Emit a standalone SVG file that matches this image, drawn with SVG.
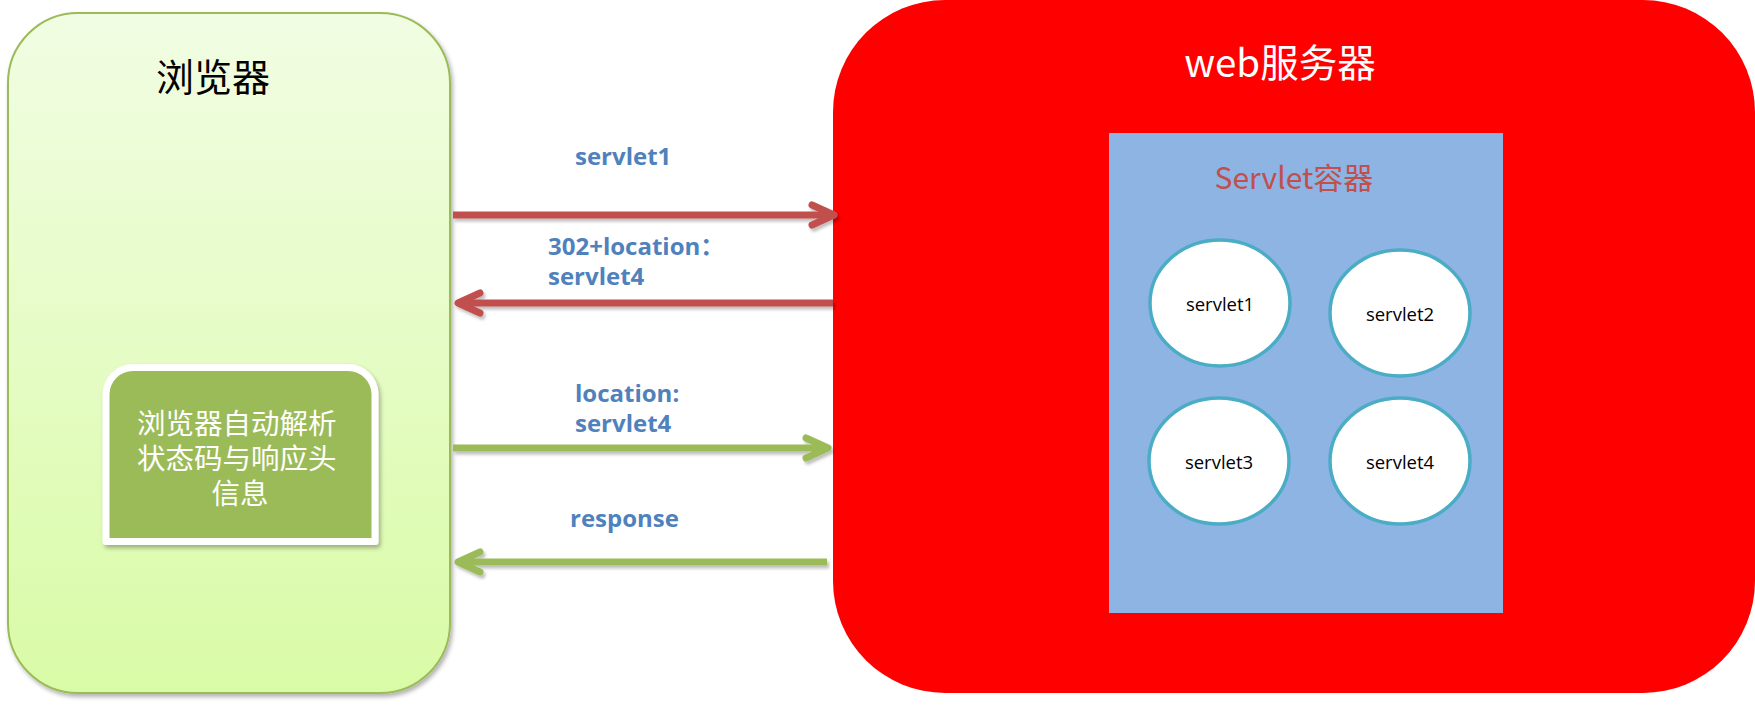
<svg xmlns="http://www.w3.org/2000/svg" width="1755" height="705" viewBox="0 0 1755 705">
<style>
.lbl{font-family:"Open Sans","Noto Sans CJK SC",sans-serif;font-weight:700;font-size:24px;fill:#4F81BD}
.node{font-family:"Open Sans","Noto Sans CJK SC",sans-serif;font-size:18.5px;fill:#000;text-anchor:middle}
.ell{fill:#fff;stroke:#4BACC6;stroke-width:3.5}
.red{stroke:#C0504D;stroke-width:7;fill:none}
.grn{stroke:#9BBB59;stroke-width:7;fill:none}
.cjk{font-family:"Noto Sans CJK SC","Open Sans",sans-serif}
</style>
<defs>
<linearGradient id="gb" x1="0" y1="0" x2="0" y2="1">
<stop offset="0" stop-color="#F1FDE3"/>
<stop offset="1" stop-color="#D9FBA6"/>
</linearGradient>
<filter id="sh" x="-10%" y="-10%" width="130%" height="130%">
<feDropShadow dx="2" dy="3" stdDeviation="2" flood-color="#000" flood-opacity="0.3"/>
</filter>
<filter id="ash" filterUnits="userSpaceOnUse" x="0" y="0" width="1755" height="705">
<feDropShadow dx="2" dy="3" stdDeviation="1.5" flood-color="#000" flood-opacity="0.25"/>
</filter>
<marker id="mr" markerUnits="userSpaceOnUse" orient="auto" refX="0" refY="0" markerWidth="40" markerHeight="40" viewBox="-30 -20 40 40" overflow="visible">
<path d="M-22,-10 L0,0 L-22,10" fill="none" stroke="#C0504D" stroke-width="7" stroke-linecap="round" stroke-linejoin="round"/>
</marker>
<marker id="mg" markerUnits="userSpaceOnUse" orient="auto" refX="0" refY="0" markerWidth="40" markerHeight="40" viewBox="-30 -20 40 40" overflow="visible">
<path d="M-22,-10 L0,0 L-22,10" fill="none" stroke="#9BBB59" stroke-width="7" stroke-linecap="round" stroke-linejoin="round"/>
</marker>
</defs>
<rect width="1755" height="705" fill="#fff"/>

<g id="browser">
<rect x="8" y="13" width="442" height="680" rx="70" ry="70" fill="url(#gb)" stroke="#9BBB59" stroke-width="2" filter="url(#sh)"/>
<text x="213" y="91" class="cjk" font-size="38" text-anchor="middle" fill="#000">浏览器</text>
</g>

<g id="auto-parse">
<path d="M106,541.5 V394 A27,27 0 0 1 133,367.5 H348 A27,27 0 0 1 375,394 V541.5 Z" fill="#9BBB59" stroke="#fff" stroke-width="7" stroke-linejoin="round" filter="url(#sh)"/>
<text class="cjk" font-size="28.5" fill="#fff" text-anchor="middle">
<tspan x="240" y="434">浏览器自动解析</tspan>
<tspan x="240" y="469">状态码与响应头</tspan>
<tspan x="240" y="504">信息</tspan>
</text>
</g>

<g id="web-server">
<rect x="833" y="0" width="922" height="693" rx="112" ry="112" fill="#FF0000"/>
<text x="1280" y="77" class="cjk" font-size="38.5" text-anchor="middle" fill="#fff">web服务器</text>
</g>

<g id="servlet-container">
<rect x="1109" y="133" width="394" height="480" fill="#8EB4E3"/>
<text x="1294" y="189" class="cjk" font-size="30" text-anchor="middle" fill="#C0504D">Servlet容器</text>
</g>

<g id="servlet1">
<ellipse class="ell" cx="1220" cy="303" rx="70" ry="63"/>
<text class="node" x="1220" y="311">servlet1</text>
</g>
<g id="servlet2">
<ellipse class="ell" cx="1400" cy="313" rx="70" ry="63"/>
<text class="node" x="1400" y="321">servlet2</text>
</g>
<g id="servlet3">
<ellipse class="ell" cx="1219" cy="461" rx="70" ry="63"/>
<text class="node" x="1219" y="469">servlet3</text>
</g>
<g id="servlet4">
<ellipse class="ell" cx="1400" cy="461" rx="70" ry="63"/>
<text class="node" x="1400" y="469">servlet4</text>
</g>

<g id="connectors">
<path class="red" d="M453,215 H834" marker-end="url(#mr)" filter="url(#ash)"/>
<path class="red" d="M833,303 H458" marker-end="url(#mr)" filter="url(#ash)"/>
<path class="grn" d="M453,448 H828" marker-end="url(#mg)" filter="url(#ash)"/>
<path class="grn" d="M827,562 H458" marker-end="url(#mg)" filter="url(#ash)"/>
<text class="lbl" x="575" y="165">servlet1</text>
<text class="lbl" x="548" y="255">302+location<tspan class="cjk">：</tspan></text>
<text class="lbl" x="548" y="285">servlet4</text>
<text class="lbl" x="575" y="402">location:</text>
<text class="lbl" x="575" y="432">servlet4</text>
<text class="lbl" x="570" y="527">response</text>
</g>
</svg>
